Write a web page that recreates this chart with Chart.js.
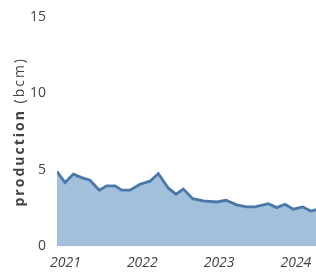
<!DOCTYPE html>
<html>
<head>
<meta charset="utf-8">
<script src="https://cdn.jsdelivr.net/npm/chart.js@4/dist/chart.umd.min.js"></script>
<style>
  html, body { margin: 0; padding: 0; background: #fff; }
  #wrap { width: 316px; height: 275px; }
</style>
</head>
<body>
<div id="wrap"><canvas id="prodChart"></canvas></div>
<script>
/* ── Datos ─────────────────────────────────────── */
const dates = [
  2020.889, 2020.993, 2021.102, 2021.211, 2021.319, 2021.440, 2021.536, 2021.645,
  2021.732, 2021.840, 2021.970, 2022.100, 2022.208, 2022.339, 2022.439, 2022.534,
  2022.656, 2022.794, 2022.969, 2023.090, 2023.229, 2023.359, 2023.467, 2023.641,
  2023.750, 2023.858, 2023.966, 2024.089, 2024.193, 2024.301,
];
const production = [
  4.90, 4.18, 4.73, 4.50, 4.33, 3.68, 3.96, 3.96,
  3.68, 3.68, 4.07, 4.27, 4.77, 3.81, 3.42, 3.75,
  3.13, 2.98, 2.91, 3.02, 2.72, 2.59, 2.59, 2.80,
  2.54, 2.76, 2.44, 2.59, 2.32, 2.45,
];
const yearTicks = [2021, 2022, 2023, 2024];
const yTicks = [0, 5, 10, 15];

const TICK_FONT = { family: "'Open Sans', sans-serif", size: 14 };

/* ── Titulo eje Y (negrita + normal) ───────────── */
const yTitlePlugin = {
  id: "yTitle",
  afterDraw(chart) {
    const { ctx, chartArea } = chart;
    const cy = (chartArea.top + chartArea.bottom) / 2;
    ctx.save();
    ctx.translate(20, cy);
    ctx.rotate(-Math.PI / 2);
    ctx.fillStyle = "#444";
    ctx.textBaseline = "middle";
    ctx.textAlign = "left";
    ctx.letterSpacing = "2px";
    ctx.font = "bold 14px 'Open Sans', sans-serif";
    const bold = "production";
    const wBold = ctx.measureText(bold).width;
    ctx.font = "14px 'Open Sans', sans-serif";
    const rest = " (bcm)";
    const wRest = ctx.measureText(rest).width;
    const x0 = -(wBold + wRest) / 2;
    ctx.font = "bold 14px 'Open Sans', sans-serif";
    ctx.fillText(bold, x0, 0);
    ctx.font = "14px 'Open Sans', sans-serif";
    ctx.fillText(rest, x0 + wBold, 0);
    ctx.restore();
  },
};

const ctx = document.getElementById("prodChart").getContext("2d");
const prodChart = new Chart(ctx, {
  type: "line",
  data: {
    datasets: [
      {
        label: "production",
        data: dates.map((d, i) => ({ x: d, y: production[i] })),
        borderColor: "#4a78a8",
        backgroundColor: "rgba(70,130,184,0.5)",
        borderWidth: 2.8,
        tension: 0,
        fill: "origin",
        pointRadius: 0,
      },
    ],
  },
  options: {
    responsive: true,
    maintainAspectRatio: false,
    animation: false,
    layout: { padding: { top: 17, left: 0, right: 0, bottom: 0 } },
    scales: {
      x: {
        type: "linear",
        min: 2020.889,
        max: 2024.262,
        grid: { display: false },
        border: { display: false },
        afterBuildTicks: (scale) => { scale.ticks = yearTicks.map((v) => ({ value: v })); },
        afterFit: (scale) => {
          scale.height = 28.5;
          scale.paddingLeft = 0;
          scale.paddingRight = 0;
        },
        ticks: {
          color: "#444",
          font: { ...TICK_FONT, style: "italic" },
          padding: 0,
          maxRotation: 0,
          autoSkip: false,
          callback: (v) => String(v),
        },
      },
      y: {
        min: 0,
        max: 15,
        grid: { display: false },
        border: { display: false },
        afterBuildTicks: (scale) => { scale.ticks = yTicks.map((v) => ({ value: v })); },
        afterFit: (scale) => {
          scale.width = 57;
          scale.paddingTop = 0;
          scale.paddingBottom = 0;
        },
        ticks: {
          color: "#444",
          font: TICK_FONT,
          padding: 3,
        },
      },
    },
    plugins: {
      legend: { display: false },
      tooltip: { enabled: false },
    },
  },
  plugins: [yTitlePlugin],
});
</script>
</body>
</html>
